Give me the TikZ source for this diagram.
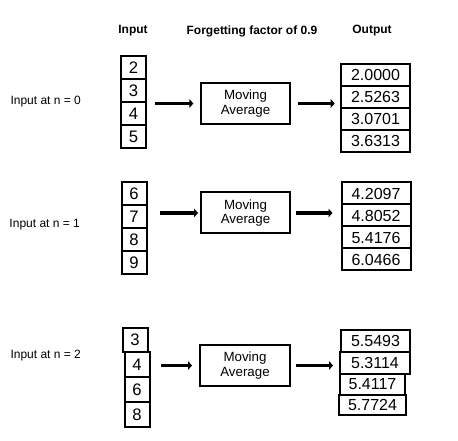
\documentclass[tikz,border=0pt]{standalone}
\usepackage{fontspec}
\setmainfont{Liberation Sans}
\usepackage{tikz}
\usetikzlibrary{arrows.meta}
\tikzset{every picture/.style={line width=0.75pt}}
\tikzset{
  cell/.style={draw, line width=1.5pt, inner sep=0pt, minimum width=18.75pt, minimum height=17.25pt, font=\fontsize{12.5}{14}\selectfont},
  outcell/.style={cell, minimum width=51.75pt, minimum height=16.5pt, font=\fontsize{12}{14}\selectfont},
  mabox/.style={draw, line width=1.5pt, inner sep=0pt, minimum width=66.75pt, minimum height=30.75pt, align=center, font=\fontsize{10}{11}\selectfont},
  flow/.style={line width=2.9pt, -{Triangle[length=3pt,width=6.5pt]}},
  lbl/.style={anchor=west, inner sep=0pt, font=\fontsize{9}{11}\selectfont},
  hdr/.style={inner sep=0pt, font=\bfseries\fontsize{9}{11}\selectfont},
}

\begin{document}
\begin{tikzpicture}[x=0.75pt,y=0.75pt,yscale=-1,xscale=1]
\useasboundingbox (0,0) rectangle (458,441);

%Text: column headers
\node[hdr] (hin) at (133,31) {Input};
\node[hdr] (hff) at (252,31) {Forgetting factor of 0.9};
\node[hdr] (hout) at (372,31) {Output};

%Row: n = 0
\node[lbl] (lab0) at (10,102) {Input at n = 0};
\foreach \v [count=\i] in {2,3,4,5}
  \node[cell] (in0\i) at (133.5,44.5+23*\i) {\v};
\node[mabox] (ma0) at (245.5,103.5) {Moving\\Average};
\foreach \v [count=\i] in {2.0000,2.5263,3.0701,3.6313}
  \node[outcell] (out0\i) at (375.5,53+22*\i) {\v};
\draw[flow, shorten <=6pt, shorten >=5pt] (in02.east |- ma0.west) -- (ma0.west);
\draw[flow, shorten <=5pt, shorten >=4pt] (ma0.east) -- (ma0.east -| out01.west);

%Row: n = 1
\node[lbl] (lab1) at (9,225) {Input at n = 1};
\foreach \v [count=\i] in {6,7,8,9}
  \node[cell] (in1\i) at (134,170.5+23*\i) {\v};
\node[mabox] (ma1) at (245.5,213) {Moving\\Average};
\foreach \v [count=\i] in {4.2097,4.8052,5.4176,6.0466}
  \node[outcell] (out1\i) at (376,171.5+22*\i) {\v};
\draw[flow, shorten <=9pt, shorten >=1.5pt] (in12.east |- ma1.west) -- (ma1.west);
\draw[flow, shorten <=3.75pt, shorten >=6pt] (ma1.east) -- (ma1.east -| out11.west);

%Row: n = 2
\node[lbl] (lab2) at (10,356) {Input at n = 2};
\node[cell, minimum height=18pt] (in21) at (135,340) {3};
\node[cell, minimum height=18.75pt] (in22) at (137,364.5) {4};
\node[cell, minimum height=18.75pt] (in23) at (137,389.5) {6};
\node[cell, minimum height=18.75pt] (in24) at (137,414.5) {8};
\node[mabox, minimum width=67.5pt] (ma2) at (245,365.5) {Moving\\Average};
\node[outcell] (out21) at (375.5,341) {5.5493};
\node[outcell, minimum width=52.5pt] (out22) at (375,363) {5.3114};
\node[outcell, minimum width=48.75pt, minimum height=15.75pt] (out23) at (372.5,384.5) {5.4117};
\node[outcell, minimum width=50.25pt, minimum height=15pt] (out24) at (372.5,405) {5.7724};
\draw[flow, line width=2.2pt, shorten <=7.5pt, shorten >=5.25pt] (in22.east |- ma2.west) -- (ma2.west);
\draw[flow, shorten <=3.75pt, shorten >=4.5pt] (ma2.east) -- (ma2.east -| out22.west);
\end{tikzpicture}
\end{document}
